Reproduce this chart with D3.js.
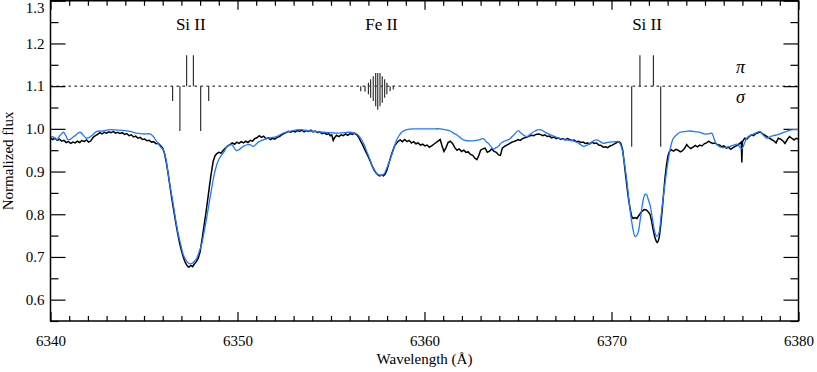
<!DOCTYPE html>
<html><head><meta charset="utf-8">
<script src="https://cdn.jsdelivr.net/npm/d3@7"></script>
<style>
body{margin:0;background:#fff}
svg text{font-family:"Liberation Serif","DejaVu Serif","Noto Serif","Times New Roman",Times,serif;fill:#000}
</style>
</head><body>
<svg id="chart" width="817" height="372"></svg>
<script>
// ---------------- DATA ----------------
const xMajorTicks = [6340, 6350, 6360, 6370, 6380];
const yMajorTicks = [0.6, 0.7, 0.8, 0.9, 1.0, 1.1, 1.2, 1.3];
const xLabel = "Wavelength (Å)";
const yLabel = "Normalized flux";
const continuumLevel = 1.1;

const lineLabels = [
  {text: "Si II", wave: 6347.5},
  {text: "Fe II", wave: 6357.7},
  {text: "Si II", wave: 6371.9}
];
const polLabels = [{text: "π", side: "up"}, {text: "σ", side: "down"}];
const polLabelWave = 6376.9;

// Zeeman components: [wavelength, length in flux units]
const piComponents = [
  [6347.28, 0.0725], [6347.64, 0.0725],
  [6357.00, 0.008], [6357.12, 0.016], [6357.26, 0.023], [6357.39, 0.031],
  [6357.50, 0.031], [6357.62, 0.031], [6357.74, 0.023], [6357.87, 0.016], [6357.99, 0.008],
  [6371.52, 0.0725], [6372.24, 0.0725]
];
const sigmaComponents = [
  [6346.53, 0.035], [6346.92, 0.105], [6348.03, 0.105], [6348.46, 0.035],
  [6356.59, 0.012], [6356.82, 0.013], [6357.00, 0.019], [6357.12, 0.027], [6357.26, 0.035],
  [6357.39, 0.047], [6357.50, 0.055], [6357.62, 0.047], [6357.74, 0.039], [6357.87, 0.027],
  [6357.99, 0.019], [6358.16, 0.012], [6358.33, 0.008],
  [6371.08, 0.142], [6372.63, 0.142]
];

// Observed spectrum (black): [wavelength, flux]
const observed = [
[6340.00,0.979],[6340.12,0.975],[6340.24,0.978],[6340.36,0.973],[6340.48,0.976],[6340.60,0.971],
[6340.72,0.973],[6340.84,0.968],[6340.96,0.970],[6341.08,0.966],[6341.20,0.969],[6341.32,0.967],
[6341.44,0.971],[6341.56,0.968],[6341.68,0.973],[6341.80,0.970],[6341.92,0.974],[6342.04,0.969],
[6342.16,0.972],[6342.28,0.980],[6342.40,0.984],[6342.52,0.987],[6342.64,0.991],[6342.76,0.988],
[6342.88,0.992],[6343.00,0.990],[6343.12,0.993],[6343.24,0.991],[6343.36,0.994],[6343.48,0.990],
[6343.60,0.992],[6343.72,0.989],[6343.84,0.991],[6343.96,0.987],[6344.08,0.989],[6344.20,0.984],
[6344.32,0.986],[6344.44,0.981],[6344.56,0.983],[6344.68,0.978],[6344.80,0.980],[6344.92,0.975],
[6345.04,0.976],[6345.16,0.972],[6345.28,0.973],[6345.40,0.969],[6345.52,0.970],[6345.64,0.965],
[6345.76,0.966],[6345.88,0.961],[6346.00,0.955],[6346.10,0.942],[6346.20,0.920],[6346.30,0.893],
[6346.40,0.862],[6346.50,0.833],[6346.60,0.806],[6346.70,0.780],[6346.80,0.755],[6346.90,0.733],
[6347.00,0.715],[6347.10,0.700],[6347.20,0.688],[6347.30,0.680],[6347.40,0.676],[6347.50,0.680],
[6347.60,0.677],[6347.70,0.684],[6347.80,0.689],[6347.90,0.697],[6348.00,0.712],[6348.10,0.740],
[6348.20,0.770],[6348.30,0.800],[6348.40,0.832],[6348.50,0.866],[6348.60,0.897],[6348.70,0.924],
[6348.80,0.937],[6348.90,0.942],[6349.00,0.945],[6349.12,0.943],[6349.24,0.950],[6349.36,0.955],
[6349.48,0.960],[6349.60,0.963],[6349.72,0.967],[6349.84,0.964],[6349.96,0.969],[6350.08,0.966],
[6350.20,0.970],[6350.32,0.967],[6350.44,0.971],[6350.56,0.968],[6350.68,0.973],[6350.80,0.971],
[6350.92,0.977],[6351.04,0.979],[6351.16,0.984],[6351.28,0.980],[6351.40,0.983],[6351.52,0.977],
[6351.64,0.979],[6351.76,0.975],[6351.88,0.978],[6352.00,0.976],[6352.12,0.980],[6352.24,0.982],
[6352.36,0.986],[6352.48,0.989],[6352.60,0.991],[6352.72,0.994],[6352.84,0.992],[6352.96,0.995],
[6353.08,0.993],[6353.20,0.996],[6353.32,0.994],[6353.44,0.997],[6353.56,0.993],[6353.68,0.996],
[6353.80,0.994],[6353.92,0.997],[6354.04,0.993],[6354.16,0.995],[6354.28,0.991],[6354.40,0.993],
[6354.52,0.989],[6354.64,0.991],[6354.76,0.987],[6354.88,0.989],[6354.96,0.984],[6355.04,0.986],
[6355.12,0.973],[6355.20,0.980],[6355.30,0.985],[6355.42,0.982],[6355.54,0.986],[6355.66,0.984],
[6355.78,0.988],[6355.90,0.985],[6356.02,0.989],[6356.14,0.987],[6356.26,0.990],[6356.38,0.986],
[6356.50,0.979],[6356.60,0.970],[6356.70,0.962],[6356.80,0.952],[6356.90,0.943],[6357.00,0.934],
[6357.10,0.924],[6357.20,0.913],[6357.30,0.904],[6357.40,0.897],[6357.50,0.893],[6357.60,0.890],
[6357.70,0.892],[6357.80,0.890],[6357.90,0.894],[6358.00,0.905],[6358.10,0.920],[6358.20,0.935],
[6358.30,0.948],[6358.40,0.960],[6358.50,0.966],[6358.60,0.971],[6358.70,0.974],[6358.82,0.970],
[6358.94,0.975],[6359.06,0.970],[6359.18,0.973],[6359.30,0.967],[6359.42,0.970],[6359.54,0.965],
[6359.66,0.967],[6359.78,0.962],[6359.90,0.964],[6360.02,0.960],[6360.14,0.962],[6360.26,0.957],
[6360.38,0.960],[6360.50,0.964],[6360.62,0.968],[6360.74,0.972],[6360.84,0.975],[6360.94,0.960],
[6361.04,0.947],[6361.14,0.955],[6361.26,0.968],[6361.38,0.971],[6361.50,0.966],[6361.62,0.956],
[6361.74,0.950],[6361.86,0.953],[6361.98,0.947],[6362.10,0.950],[6362.22,0.945],[6362.34,0.946],
[6362.46,0.940],[6362.58,0.938],[6362.70,0.931],[6362.80,0.928],[6362.90,0.937],[6363.00,0.950],
[6363.12,0.953],[6363.24,0.955],[6363.36,0.945],[6363.48,0.948],[6363.60,0.953],[6363.72,0.947],
[6363.84,0.945],[6363.96,0.939],[6364.06,0.938],[6364.16,0.955],[6364.28,0.959],[6364.40,0.962],
[6364.52,0.965],[6364.64,0.968],[6364.76,0.970],[6364.88,0.972],[6365.00,0.975],[6365.12,0.973],
[6365.24,0.977],[6365.36,0.979],[6365.48,0.981],[6365.60,0.983],[6365.72,0.985],[6365.84,0.984],
[6365.96,0.987],[6366.08,0.988],[6366.20,0.987],[6366.32,0.984],[6366.44,0.986],[6366.56,0.982],
[6366.68,0.983],[6366.80,0.979],[6366.92,0.981],[6367.04,0.977],[6367.16,0.979],[6367.28,0.975],
[6367.40,0.977],[6367.52,0.974],[6367.64,0.977],[6367.76,0.975],[6367.88,0.973],[6368.00,0.974],
[6368.12,0.970],[6368.24,0.971],[6368.36,0.968],[6368.48,0.969],[6368.60,0.966],[6368.72,0.967],
[6368.84,0.965],[6368.96,0.969],[6369.08,0.966],[6369.20,0.967],[6369.32,0.962],[6369.44,0.961],
[6369.56,0.957],[6369.68,0.958],[6369.80,0.956],[6369.92,0.960],[6370.04,0.962],[6370.16,0.965],
[6370.28,0.968],[6370.40,0.970],[6370.50,0.966],[6370.60,0.950],[6370.68,0.920],[6370.76,0.890],
[6370.84,0.860],[6370.92,0.833],[6371.00,0.812],[6371.08,0.795],[6371.16,0.790],[6371.26,0.792],
[6371.36,0.790],[6371.46,0.797],[6371.56,0.803],[6371.66,0.808],[6371.76,0.811],[6371.86,0.810],
[6371.96,0.806],[6372.06,0.800],[6372.14,0.785],[6372.22,0.766],[6372.30,0.749],[6372.38,0.738],
[6372.44,0.734],[6372.50,0.737],[6372.56,0.748],[6372.62,0.770],[6372.70,0.805],[6372.78,0.845],
[6372.86,0.885],[6372.94,0.915],[6373.02,0.937],[6373.10,0.947],[6373.20,0.951],[6373.32,0.948],
[6373.44,0.952],[6373.56,0.950],[6373.68,0.946],[6373.80,0.949],[6373.92,0.955],[6374.02,0.963],
[6374.12,0.958],[6374.24,0.954],[6374.36,0.957],[6374.48,0.961],[6374.60,0.958],[6374.72,0.962],
[6374.84,0.960],[6374.96,0.965],[6375.08,0.967],[6375.20,0.971],[6375.30,0.968],[6375.42,0.966],
[6375.54,0.967],[6375.66,0.963],[6375.78,0.962],[6375.90,0.958],[6376.02,0.960],[6376.14,0.955],
[6376.26,0.957],[6376.38,0.952],[6376.50,0.956],[6376.62,0.959],[6376.74,0.962],[6376.86,0.966],
[6376.94,0.969],[6376.97,0.921],[6377.00,0.970],[6377.12,0.978],[6377.24,0.976],[6377.36,0.982],
[6377.48,0.986],[6377.60,0.984],[6377.72,0.989],[6377.84,0.991],[6377.96,0.993],[6378.08,0.988],
[6378.20,0.985],[6378.32,0.982],[6378.44,0.978],[6378.56,0.975],[6378.68,0.972],[6378.80,0.967],
[6378.92,0.978],[6379.04,0.976],[6379.16,0.972],[6379.28,0.966],[6379.40,0.975],[6379.52,0.982],
[6379.64,0.978],[6379.76,0.974],[6379.88,0.978],[6380.00,0.976]
];

// Model spectrum (blue): [wavelength, flux]
const model = [
[6340.00,0.982],[6340.15,0.981],[6340.33,0.974],[6340.50,0.984],[6340.69,0.992],[6340.82,0.984],
[6340.95,0.974],[6341.25,0.982],[6341.58,0.992],[6341.93,0.978],[6342.20,0.984],[6342.47,0.994],
[6342.80,0.995],[6343.18,0.998],[6343.70,0.997],[6344.25,0.994],[6344.60,0.990],[6344.96,0.988],
[6345.32,0.988],[6345.50,0.982],[6345.68,0.970],[6345.90,0.957],[6346.03,0.951],[6346.17,0.930],
[6346.30,0.892],[6346.43,0.857],[6346.57,0.822],[6346.70,0.785],[6346.84,0.752],[6346.97,0.728],
[6347.10,0.705],[6347.25,0.692],[6347.37,0.686],[6347.50,0.684],[6347.60,0.686],[6347.72,0.691],
[6347.82,0.697],[6347.95,0.712],[6348.08,0.729],[6348.22,0.760],[6348.35,0.791],[6348.48,0.825],
[6348.62,0.861],[6348.75,0.892],[6348.89,0.916],[6349.02,0.930],[6349.15,0.939],[6349.30,0.948],
[6349.42,0.958],[6349.55,0.962],[6349.69,0.963],[6349.83,0.955],[6349.95,0.949],[6350.10,0.952],
[6350.31,0.959],[6350.55,0.963],[6350.67,0.963],[6350.85,0.959],[6351.11,0.969],[6351.56,0.977],
[6352.09,0.982],[6352.45,0.990],[6352.81,0.994],[6353.34,0.998],[6353.88,0.995],[6354.59,0.992],
[6355.31,0.990],[6355.70,0.991],[6356.02,0.992],[6356.25,0.990],[6356.38,0.988],[6356.52,0.982],
[6356.64,0.974],[6356.78,0.962],[6356.91,0.947],[6357.05,0.932],[6357.18,0.916],[6357.31,0.905],
[6357.44,0.896],[6357.58,0.892],[6357.71,0.891],[6357.85,0.895],[6357.98,0.908],[6358.12,0.923],
[6358.25,0.939],[6358.38,0.957],[6358.51,0.974],[6358.65,0.985],[6358.78,0.992],[6359.05,0.998],
[6359.50,1.000],[6359.94,1.000],[6360.40,1.000],[6360.83,1.000],[6361.10,0.998],[6361.37,0.995],
[6361.55,0.990],[6361.72,0.986],[6361.90,0.980],[6362.08,0.974],[6362.35,0.972],[6362.61,0.972],
[6362.90,0.974],[6363.15,0.977],[6363.30,0.970],[6363.42,0.966],[6363.55,0.959],[6363.68,0.953],
[6363.82,0.956],[6363.95,0.959],[6364.08,0.966],[6364.22,0.970],[6364.40,0.973],[6364.57,0.977],
[6364.80,0.987],[6365.02,0.996],[6365.15,0.990],[6365.29,0.986],[6365.47,0.982],[6365.70,0.989],
[6365.91,0.995],[6366.18,0.998],[6366.54,0.990],[6366.90,0.983],[6367.25,0.977],[6367.60,0.974],
[6367.96,0.972],[6368.25,0.966],[6368.50,0.959],[6368.70,0.962],[6368.85,0.966],[6369.05,0.972],
[6369.21,0.974],[6369.40,0.970],[6369.57,0.966],[6369.75,0.968],[6369.92,0.969],[6370.20,0.970],
[6370.37,0.970],[6370.46,0.965],[6370.55,0.955],[6370.64,0.935],[6370.73,0.908],[6370.82,0.878],
[6370.90,0.846],[6370.99,0.812],[6371.08,0.783],[6371.17,0.760],[6371.26,0.748],[6371.35,0.750],
[6371.44,0.760],[6371.53,0.785],[6371.62,0.814],[6371.72,0.838],[6371.80,0.847],[6371.88,0.846],
[6371.96,0.835],[6372.06,0.822],[6372.15,0.800],[6372.24,0.775],[6372.33,0.756],[6372.42,0.748],
[6372.50,0.752],[6372.56,0.760],[6372.65,0.795],[6372.74,0.830],[6372.83,0.862],[6372.92,0.892],
[6373.02,0.923],[6373.13,0.951],[6373.22,0.968],[6373.31,0.978],[6373.50,0.987],[6373.67,0.992],
[6374.00,0.994],[6374.20,0.995],[6374.50,0.993],[6374.74,0.992],[6374.95,0.988],[6375.09,0.988],
[6375.25,0.989],[6375.36,0.990],[6375.50,0.975],[6375.63,0.963],[6375.80,0.958],[6375.98,0.956],
[6376.20,0.957],[6376.34,0.959],[6376.55,0.962],[6376.70,0.964],[6376.82,0.960],[6376.96,0.953],
[6377.10,0.965],[6377.23,0.978],[6377.40,0.984],[6377.59,0.988],[6377.80,0.992],[6377.94,0.994],
[6378.10,0.986],[6378.30,0.978],[6378.50,0.982],[6378.66,0.984],[6378.85,0.986],[6379.01,0.988],
[6379.20,0.992],[6379.37,0.994],[6379.55,0.997],[6379.73,0.998],[6380.00,0.998]
];

// ---------------- CHART ----------------
const FONT = '"Liberation Serif","DejaVu Serif","Noto Serif","Times New Roman",Times,serif';
const svg = d3.select("#chart");
const m = {left: 50.5, top: 0.75, right: 817 - 798.5, bottom: 372 - 321};
const W = 817 - m.left - m.right, H = 372 - m.top - m.bottom;
const g = svg.append("g").attr("transform", `translate(${m.left},${m.top})`);

const x = d3.scaleLinear().domain([6340, 6380]).range([0, W]);
const y = d3.scaleLinear().domain([0.55, 1.3]).range([H, 0]);

const xMinor = d3.range(6340, 6381, 1).filter(v => !xMajorTicks.includes(v));
const yMinor = d3.range(0.55, 1.31, 0.1).map(v => +v.toFixed(2));

function styleAxis(sel){
  sel.attr("font-family", FONT);
  sel.select(".domain").remove();
  sel.selectAll(".tick line").attr("stroke", "#000").attr("stroke-width", 1.2);
  sel.selectAll(".tick text").attr("font-family", FONT).style("font-family", FONT)
     .style("font-size", "15px").attr("fill", "#000");
}

// bottom axis
g.append("g").attr("transform", `translate(0,${H})`)
  .call(d3.axisBottom(x).tickValues(xMajorTicks).tickSize(-9).tickPadding(14).tickFormat(d3.format("d")))
  .call(styleAxis);
g.append("g").attr("transform", `translate(0,${H})`)
  .call(d3.axisBottom(x).tickValues(xMinor).tickSize(-5).tickFormat(""))
  .call(styleAxis);
// top axis
g.append("g")
  .call(d3.axisTop(x).tickValues(xMajorTicks).tickSize(-9).tickFormat(""))
  .call(styleAxis);
g.append("g")
  .call(d3.axisTop(x).tickValues(xMinor).tickSize(-5).tickFormat(""))
  .call(styleAxis);
// left axis
const yAxisG = g.append("g")
  .call(d3.axisLeft(y).tickValues(yMajorTicks).tickSize(-15).tickPadding(6).tickFormat(d3.format(".1f")))
  .call(styleAxis);
// keep the top label inside the picture, as in the reference
yAxisG.selectAll(".tick").filter(d => d === 1.3).select("text").attr("dy", "0.75em");
g.append("g")
  .call(d3.axisLeft(y).tickValues(yMinor).tickSize(-8).tickFormat(""))
  .call(styleAxis);
// right axis
g.append("g").attr("transform", `translate(${W},0)`)
  .call(d3.axisRight(y).tickValues(yMajorTicks).tickSize(-15).tickFormat(""))
  .call(styleAxis);
g.append("g").attr("transform", `translate(${W},0)`)
  .call(d3.axisRight(y).tickValues(yMinor).tickSize(-8).tickFormat(""))
  .call(styleAxis);

// dotted continuum line
g.append("line")
  .attr("x1", 0).attr("x2", W)
  .attr("y1", y(continuumLevel)).attr("y2", y(continuumLevel))
  .attr("stroke", "#000").attr("stroke-width", 1).attr("stroke-dasharray", "2.5,3.5");

// Zeeman components
g.append("g").selectAll("line").data(piComponents).join("line")
  .attr("x1", d => x(d[0])).attr("x2", d => x(d[0]))
  .attr("y1", y(continuumLevel)).attr("y2", d => y(continuumLevel + d[1]))
  .attr("stroke", "#222").attr("stroke-width", 1.1);
g.append("g").selectAll("line").data(sigmaComponents).join("line")
  .attr("x1", d => x(d[0])).attr("x2", d => x(d[0]))
  .attr("y1", y(continuumLevel)).attr("y2", d => y(continuumLevel - d[1]))
  .attr("stroke", "#222").attr("stroke-width", 1.1);

// spectra
svg.append("defs").append("clipPath").attr("id", "clip")
  .append("rect").attr("width", W).attr("height", H);
const lineObs = d3.line().x(d => x(d[0])).y(d => y(d[1]));
const lineMod = d3.line().x(d => x(d[0])).y(d => y(d[1])).curve(d3.curveCatmullRom.alpha(0.5));

g.append("path").datum(observed).attr("d", lineObs)
  .attr("fill", "none").attr("stroke", "#000").attr("stroke-width", 1.5)
  .attr("clip-path", "url(#clip)");
g.append("path").datum(model).attr("d", lineMod)
  .attr("fill", "none").attr("stroke", "#1f78ff").attr("stroke-width", 1.3)
  .attr("clip-path", "url(#clip)");

// frame
g.append("rect").attr("width", W).attr("height", H)
  .attr("fill", "none").attr("stroke", "#000").attr("stroke-width", 1.5);

// line labels
g.append("g").selectAll("text").data(lineLabels).join("text")
  .attr("x", d => x(d.wave)).attr("y", 29)
  .attr("text-anchor", "middle").attr("font-family", FONT).style("font-size", "17px")
  .text(d => d.text);

// polarization labels
g.append("g").selectAll("text").data(polLabels).join("text")
  .attr("x", x(polLabelWave))
  .attr("y", d => d.side === "up" ? y(continuumLevel) - 13 : y(continuumLevel) + 17)
  .attr("text-anchor", "middle").attr("font-family", FONT)
  .style("font-size", "18px").style("font-style", "italic")
  .text(d => d.text);

// axis titles
svg.append("text").attr("x", m.left + W / 2).attr("y", 364)
  .attr("text-anchor", "middle").attr("font-family", FONT).style("font-size", "15px").text(xLabel);
svg.append("text")
  .attr("transform", `translate(13,${m.top + H / 2}) rotate(-90)`)
  .attr("text-anchor", "middle").attr("font-family", FONT).style("font-size", "15px").text(yLabel);
</script>
</body></html>
